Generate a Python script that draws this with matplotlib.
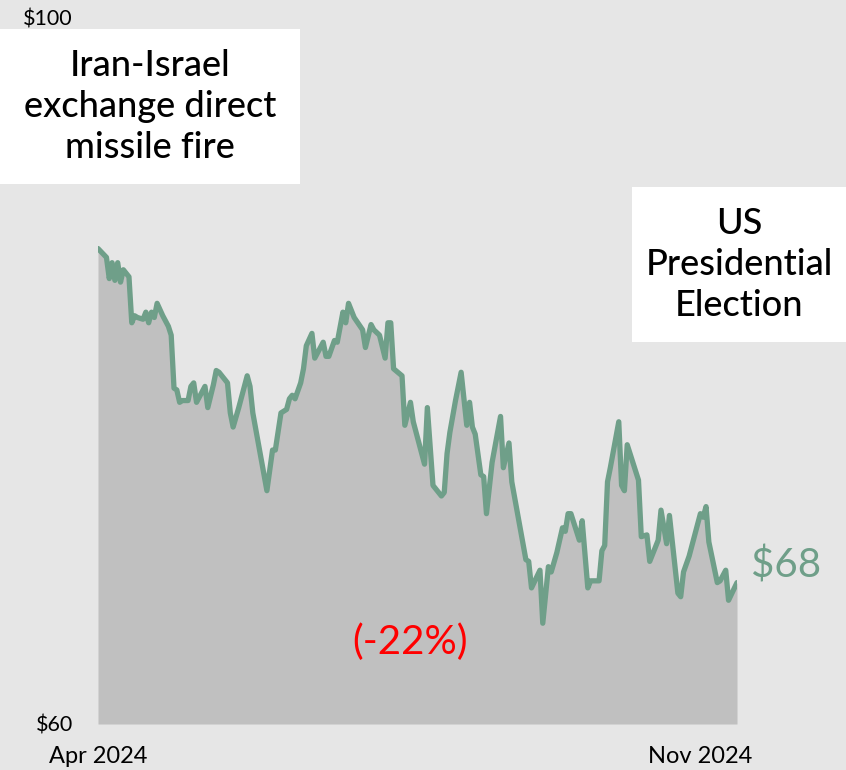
import numpy as np
import matplotlib
matplotlib.use("Agg")
import matplotlib.pyplot as plt
from matplotlib.patches import Rectangle

# Daily price path (days counted from the start date) and closing prices in USD
start_date = "2024-04-01"
day = [0, 3, 4, 5, 6, 7, 8, 9, 10, 11, 12, 13, 14, 16, 17, 18, 19, 20, 21, 23,
       25, 26, 27, 28, 29, 30, 32, 33, 34, 35, 37, 38, 39, 41, 42, 43, 44, 46, 47, 48,
       50, 53, 54, 55, 60, 62, 63, 65, 67, 68, 69, 70, 72, 73, 74, 76, 77, 78, 80, 81,
       82, 84, 85, 87, 88, 89, 91, 94, 95, 97, 98, 100, 102, 103, 104, 105, 108, 109, 111, 112,
       114, 116, 117, 118, 119, 122, 123, 124, 125, 127, 129, 131, 132, 133, 134, 136, 137, 138, 140, 143,
       144, 146, 147, 152, 153, 154, 157, 158, 160, 161, 163, 165, 166, 167, 168, 171, 172, 174, 175, 178,
       179, 180, 181, 182, 185, 186, 187, 188, 189, 192, 193, 195, 196, 199, 200, 202, 203, 206, 207, 208,
       210, 214, 215, 216, 217, 220, 221, 223, 224, 227]
price = [86.9, 86.4, 85.2, 86.1, 85.1, 86.1, 85.0, 85.7, 85.5, 85.3, 82.7, 83.1, 83.0, 82.9, 83.3, 82.7, 83.3, 83.0, 83.8, 83.1,
         82.5, 82.0, 79.0, 78.9, 78.2, 78.3, 78.3, 79.1, 79.3, 78.2, 78.8, 79.1, 77.9, 79.2, 80.0, 79.9, 79.7, 79.3, 77.6, 76.8,
         77.9, 79.7, 79.1, 77.6, 73.2, 75.5, 75.5, 77.6, 77.8, 78.4, 78.6, 78.4, 79.3, 80.1, 81.4, 82.1, 80.7, 81.0, 81.6, 80.8,
         80.8, 81.7, 81.6, 83.3, 82.7, 83.8, 83.0, 82.3, 81.3, 82.6, 82.3, 82.0, 80.7, 82.7, 82.7, 80.1, 79.7, 76.9, 78.2, 77.1,
         75.9, 74.7, 77.9, 75.7, 73.5, 72.9, 73.1, 75.3, 76.5, 78.3, 79.9, 76.9, 78.2, 76.8, 76.4, 74.1, 74.0, 71.9, 74.8, 77.4,
         74.5, 75.9, 73.7, 69.3, 69.2, 67.7, 68.7, 65.7, 68.9, 68.6, 69.7, 71.1, 70.9, 71.9, 71.9, 70.4, 71.5, 67.7, 68.1, 68.1,
         69.8, 70.1, 73.7, 74.5, 77.1, 73.5, 73.2, 75.8, 75.3, 73.8, 70.6, 70.7, 69.2, 70.4, 72.1, 70.2, 71.8, 67.4, 67.2, 68.6,
         69.5, 71.9, 71.7, 72.3, 70.3, 68.0, 68.1, 68.7, 67.0, 68.0]

y_ticks = [60, 100]
y_tick_labels = ["$60", "$100"]
x_ticks = ["2024-04-01", "2024-11-01"]
x_tick_labels = ["Apr 2024", "Nov 2024"]

last_label = "$68"
change_label = "(-22%)"
event_left = "Iran-Israel\nexchange direct\nmissile fire"
event_right = "US\nPresidential\nElection"

plt.rcParams["font.family"] = ["Lato", "DejaVu Sans"]

BG = "#e6e6e6"
FILL = "#c0c0c0"
LINE = "#6f9f89"

dates = np.datetime64(start_date) + np.array(day, dtype="timedelta64[D]")
W, H = 846, 770
fig = plt.figure(figsize=(W / 100, H / 100), dpi=100, facecolor=BG)
ax = fig.add_axes([98 / W, (H - 724) / H, (737 - 98) / W, (724 - 17) / H])
ax.set_facecolor(BG)

ax.fill_between(dates, price, y_ticks[0], color=FILL, lw=0, zorder=1)
ax.plot(dates, price, color=LINE, lw=3.8, solid_joinstyle="round", solid_capstyle="round", zorder=2)

ax.set_xlim(dates[0], dates[-1])
ax.set_ylim(y_ticks[0], y_ticks[-1])
ax.set_yticks(y_ticks)
ax.set_yticklabels(y_tick_labels)
ax.set_xticks(np.array(x_ticks, dtype="datetime64[D]"))
ax.set_xticklabels(x_tick_labels)
ax.tick_params(axis="y", length=0, pad=18, labelsize=15.5, colors="black")
ax.tick_params(axis="x", length=0, pad=16, labelsize=17, colors="black")
for s in ax.spines.values():
    s.set_visible(False)

# closing value next to the line end
ax.annotate(last_label, xy=(dates[-1], price[-1]), xytext=(10, 12), textcoords="offset points",
            ha="left", va="center", fontsize=29, color=LINE, annotation_clip=False)
# overall change over the period
fig.text(410 / W, 1 - 642 / H, change_label, ha="center", va="center", fontsize=29, color="#ff0000")

# event callouts
def callout(x0, y0, x1, y1, txt):
    fig.add_artist(Rectangle((x0 / W, 1 - y1 / H), (x1 - x0) / W, (y1 - y0) / H,
                             transform=fig.transFigure, facecolor="white", edgecolor="none", zorder=5))
    fig.text((x0 + x1) / 2 / W, 1 - (y0 + y1) / 2 / H, txt, ha="center", va="center",
             fontsize=26, fontweight="medium", linespacing=1.28, color="black", zorder=6)

callout(0, 29, 300, 184, event_left)
callout(632, 187, 846, 342, event_right)

fig.savefig("out.png", dpi=100, facecolor=BG)
